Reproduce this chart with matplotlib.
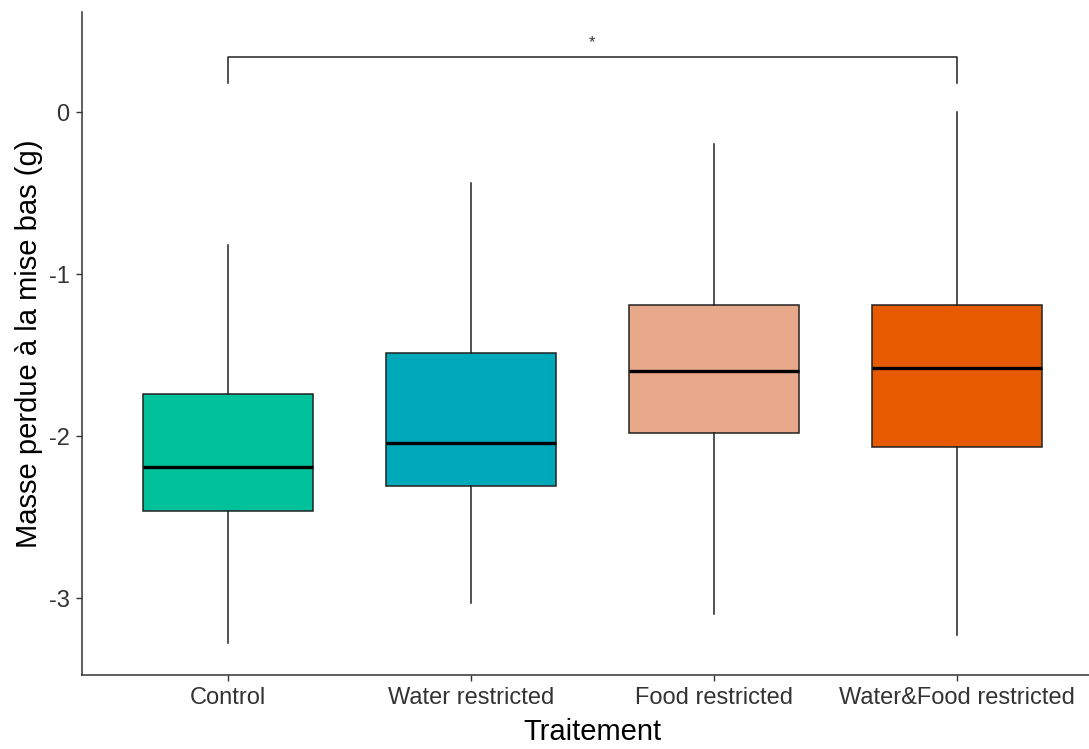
import matplotlib
matplotlib.use("Agg")
import matplotlib.pyplot as plt

plt.rcParams['font.family'] = ['Liberation Sans', 'DejaVu Sans']

# data
groups = ["Control", "Water restricted", "Food restricted", "Water&Food restricted"]
whislo = [-3.28, -3.03, -3.10, -3.23]
q1 = [-2.46, -2.31, -1.98, -2.07]
med = [-2.19, -2.04, -1.60, -1.58]
q3 = [-1.74, -1.49, -1.19, -1.19]
whishi = [-0.82, -0.44, -0.20, 0.00]
colors = ["#00C19A", "#00A9B9", "#E8A98A", "#E85A00"]

# significance bracket between Control and Water&Food restricted
bracket_pair = (1, 4)
bracket_y = 0.34
bracket_drop = 0.16
bracket_label = "*"

fig = plt.figure(figsize=(10.89, 7.49), dpi=100)
ax = fig.add_axes([0.0753, 0.0988, 0.937, 0.885])

stats = []
for i in range(len(groups)):
    stats.append(dict(med=med[i], q1=q1[i], q3=q3[i],
                      whislo=whislo[i], whishi=whishi[i], fliers=[]))

positions = list(range(1, len(groups) + 1))
bp = ax.bxp(stats, positions=positions, widths=0.70, patch_artist=True,
            showcaps=False,
            boxprops=dict(edgecolor="#222222", linewidth=1.1),
            whiskerprops=dict(color="#222222", linewidth=1.1),
            medianprops=dict(color="black", linewidth=2.4))
for patch, c in zip(bp["boxes"], colors):
    patch.set_facecolor(c)
    patch.set_zorder(2)

# bracket
x1, x2 = bracket_pair
ax.plot([x1, x1, x2, x2],
        [bracket_y - bracket_drop, bracket_y, bracket_y, bracket_y - bracket_drop],
        color="#222222", linewidth=1.1, clip_on=False)
ax.text((x1 + x2) / 2, bracket_y + 0.04, bracket_label, ha="center", va="bottom",
        fontsize=12, color="#333333")

ax.set_xlim(0.4, 4.6)
ax.set_ylim(-3.475, 0.617)
ax.set_yticks([0, -1, -2, -3])
ax.set_yticklabels(["0", "-1", "-2", "-3"])
ax.set_xticks(positions)
ax.set_xticklabels(groups)

for s in ["top", "right"]:
    ax.spines[s].set_visible(False)
for s in ["left", "bottom"]:
    ax.spines[s].set_color("#333333")
    ax.spines[s].set_linewidth(1.1)

ax.tick_params(axis="both", length=4, width=1, color="#333333",
               labelsize=17, labelcolor="#333333", pad=5)

ax.set_xlabel("Traitement", fontsize=21, color="black", labelpad=6)
ax.set_ylabel("Masse perdue à la mise bas (g)", fontsize=21, color="black", labelpad=4)

fig.savefig("out.png", dpi=100)
